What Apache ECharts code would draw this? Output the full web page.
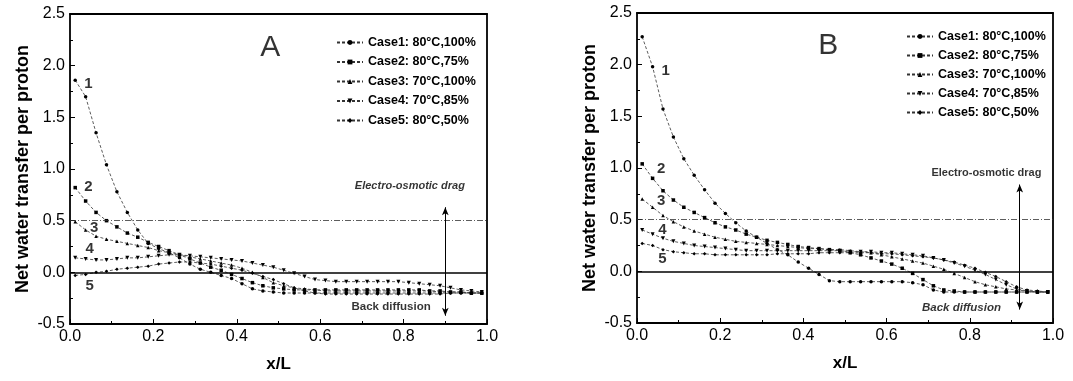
<!DOCTYPE html>
<html>
<head>
<meta charset="utf-8">
<script src="https://cdn.jsdelivr.net/npm/echarts@6/dist/echarts.min.js"></script>
<style>
  html, body { margin: 0; padding: 0; background: #fff; }
  #chart { width: 1073px; height: 381px; }
</style>
</head>
<body>
<div id="chart"></div>
<script>
// x/L sample positions (shared by all curves)
const xPos = [0.0125,0.0375,0.0625,0.0875,0.1125,0.1375,0.1625,0.1875,0.2125,0.2375,
              0.2625,0.2875,0.3125,0.3375,0.3625,0.3875,0.4125,0.4375,0.4625,0.4875,
              0.5125,0.5375,0.5625,0.5875,0.6125,0.6375,0.6625,0.6875,0.7125,0.7375,
              0.7625,0.7875,0.8125,0.8375,0.8625,0.8875,0.9125,0.9375,0.9625,0.9875];

const caseNames = ['Case1: 80°C,100%', 'Case2: 80°C,75%', 'Case3: 70°C,100%', 'Case4: 70°C,85%', 'Case5: 80°C,50%'];

// panel A
const aCase1 = [1.86,1.70,1.35,1.04,0.78,0.58,0.41,0.28,0.23,0.19,0.14,0.08,0.03,0.00,-0.03,-0.06,-0.11,-0.16,-0.18,-0.19,
                -0.20,-0.20,-0.20,-0.20,-0.20,-0.20,-0.20,-0.20,-0.20,-0.20,-0.20,-0.20,-0.20,-0.20,-0.20,-0.20,-0.20,-0.20,-0.20,-0.20];
const aCase2 = [0.82,0.69,0.58,0.50,0.44,0.38,0.34,0.29,0.25,0.21,0.17,0.13,0.09,0.05,0.02,-0.02,-0.06,-0.10,-0.13,-0.15,
                -0.16,-0.17,-0.17,-0.17,-0.17,-0.17,-0.17,-0.17,-0.17,-0.17,-0.17,-0.17,-0.17,-0.17,-0.18,-0.18,-0.19,-0.19,-0.20,-0.20];
const aCase3 = [0.49,0.41,0.35,0.32,0.30,0.28,0.26,0.24,0.21,0.19,0.17,0.15,0.13,0.11,0.09,0.07,0.04,0.00,-0.05,-0.10,
                -0.13,-0.15,-0.16,-0.17,-0.18,-0.18,-0.18,-0.18,-0.18,-0.18,-0.18,-0.18,-0.18,-0.18,-0.18,-0.19,-0.19,-0.19,-0.20,-0.20];
const aCase4 = [0.14,0.13,0.12,0.12,0.13,0.14,0.14,0.15,0.16,0.17,0.17,0.16,0.15,0.14,0.13,0.12,0.11,0.09,0.07,0.05,
                0.02,-0.01,-0.04,-0.07,-0.08,-0.09,-0.09,-0.09,-0.09,-0.09,-0.09,-0.09,-0.10,-0.11,-0.12,-0.13,-0.15,-0.17,-0.18,-0.19];
const aCase5 = [-0.03,-0.02,0.00,0.01,0.03,0.04,0.05,0.06,0.08,0.09,0.10,0.10,0.09,0.08,0.06,0.04,0.02,-0.01,-0.04,-0.07,
                -0.11,-0.15,-0.18,-0.20,-0.21,-0.21,-0.21,-0.21,-0.21,-0.21,-0.21,-0.21,-0.21,-0.21,-0.21,-0.21,-0.20,-0.20,-0.20,-0.20];

// panel B
const bCase1 = [2.27,1.98,1.57,1.30,1.09,0.93,0.79,0.66,0.56,0.47,0.39,0.33,0.27,0.21,0.16,0.09,0.03,-0.03,-0.09,-0.10,
                -0.10,-0.10,-0.10,-0.10,-0.10,-0.10,-0.11,-0.13,-0.18,-0.20,-0.20,-0.20,-0.20,-0.20,-0.20,-0.20,-0.20,-0.20,-0.20,-0.20];
const bCase2 = [1.04,0.90,0.78,0.69,0.62,0.57,0.52,0.47,0.43,0.40,0.36,0.33,0.30,0.28,0.26,0.24,0.23,0.22,0.21,0.20,
                0.18,0.16,0.13,0.10,0.07,0.03,-0.02,-0.08,-0.14,-0.18,-0.19,-0.20,-0.20,-0.20,-0.20,-0.20,-0.20,-0.20,-0.20,-0.20];
const bCase3 = [0.70,0.62,0.54,0.48,0.43,0.39,0.36,0.33,0.31,0.29,0.28,0.27,0.26,0.25,0.24,0.23,0.22,0.22,0.21,0.21,
                0.20,0.19,0.18,0.16,0.14,0.12,0.10,0.08,0.05,0.02,-0.02,-0.06,-0.10,-0.13,-0.15,-0.17,-0.18,-0.19,-0.20,-0.20];
const bCase4 = [0.40,0.36,0.32,0.29,0.27,0.25,0.24,0.23,0.22,0.21,0.20,0.20,0.20,0.20,0.20,0.20,0.20,0.20,0.20,0.20,
                0.19,0.19,0.19,0.18,0.18,0.17,0.16,0.15,0.13,0.11,0.08,0.05,0.01,-0.03,-0.08,-0.13,-0.17,-0.19,-0.20,-0.20];
const bCase5 = [0.27,0.25,0.21,0.19,0.18,0.17,0.17,0.16,0.16,0.16,0.16,0.16,0.16,0.17,0.17,0.17,0.17,0.18,0.18,0.18,
                0.18,0.18,0.18,0.17,0.17,0.16,0.15,0.14,0.13,0.11,0.09,0.06,0.03,-0.01,-0.05,-0.10,-0.15,-0.18,-0.19,-0.20];

const xTicks = [0, 0.2, 0.4, 0.6, 0.8, 1.0];
const yTicks = [-0.5, 0, 0.5, 1.0, 1.5, 2.0, 2.5];
const refLevels = [0, 0.5]; // zero line, drag level

const FONT = 'Liberation Sans';
const INK = '#000';
const symbols = ['circle', 'rect', 'triangle', 'path://M0,0 L10,0 L5,9 Z', 'diamond'];

// annotations (label, x, y)
const curveTagsA = [['1', 0.044, 1.82], ['2', 0.044, 0.83], ['3', 0.058, 0.43], ['4', 0.047, 0.23], ['5', 0.047, -0.13]];
const curveTagsB = [['1', 0.069, 1.94], ['2', 0.058, 0.99], ['3', 0.058, 0.68], ['4', 0.061, 0.40], ['5', 0.061, 0.12]];

const chart = echarts.init(document.getElementById('chart'));

function makeAxes(idx) {
    const line = { show: true, onZero: false, lineStyle: { color: INK, width: 1.8 } };
    const x = {
        gridIndex: idx, type: 'value', min: xTicks[0], max: xTicks[xTicks.length - 1], interval: 0.2,
        name: 'x/L', nameLocation: 'middle', nameGap: 32,
        nameTextStyle: { fontFamily: FONT, fontWeight: 'bold', fontSize: 17, color: INK },
        axisLine: line,
        axisTick: { inside: true, length: 5, lineStyle: { color: INK } },
        minorTick: { show: true, splitNumber: 2, length: 3, lineStyle: { color: INK } },
        splitLine: { show: false },
        axisLabel: { fontFamily: FONT, fontSize: 16, color: INK, margin: 5, formatter: v => v.toFixed(1) }
    };
    const y = {
        gridIndex: idx, type: 'value', min: yTicks[0], max: yTicks[yTicks.length - 1], interval: 0.5,
        name: 'Net water transfer per proton', nameLocation: 'middle', nameGap: 38,
        nameTextStyle: { fontFamily: FONT, fontWeight: 'bold', fontSize: 18, color: INK },
        axisLine: line,
        axisTick: { inside: true, length: 5, lineStyle: { color: INK } },
        minorTick: { show: true, splitNumber: 2, length: 3, lineStyle: { color: INK } },
        splitLine: { show: false },
        axisLabel: { fontFamily: FONT, fontSize: 16, color: INK, margin: 5, formatter: v => v.toFixed(1) }
    };
    // frame on top / right
    const xTop = {
        gridIndex: idx, type: 'value', position: 'top', min: 0, max: 1,
        axisLine: line, axisTick: { show: false }, axisLabel: { show: false }, splitLine: { show: false }
    };
    const yRight = {
        gridIndex: idx, type: 'value', position: 'right', min: -0.5, max: 2.5,
        axisLine: line, axisTick: { show: false }, axisLabel: { show: false }, splitLine: { show: false }
    };
    return { x: [x, xTop], y: [y, yRight] };
}

function caseSeries(idx, arrs) {
    return arrs.map((vals, i) => ({
        name: caseNames[i],
        type: 'line',
        xAxisIndex: idx * 2, yAxisIndex: idx * 2,
        data: xPos.map((x, k) => [x, vals[k]]),
        symbol: symbols[i],
        symbolSize: i === 3 ? 4 : 3.5,
        showSymbol: true,
        itemStyle: { color: INK },
        lineStyle: { color: '#333', width: 0.8, type: [3, 2] },
        z: 3
    }));
}

function notes(idx, tags, panel, arrow, drag, back) {
    const txt = (t, x, y, size, style) => ({
        value: [x, y],
        label: { show: true, formatter: t, position: 'inside', fontFamily: FONT, fontSize: size,
                 fontWeight: 'bold', fontStyle: style || 'normal', color: INK }
    });
    const data = tags.map(t => txt(t[0], t[1], t[2], 15));
    data.push({ value: [panel[1], panel[2]],
                label: { show: true, formatter: panel[0], position: 'inside', fontFamily: FONT, fontSize: 30, color: INK } });
    data.push(txt('Electro-osmotic drag', drag[0], drag[1], 11, drag[2]));
    data.push(txt('Back diffusion', back[0], back[1], 11.5, back[2]));
    return {
        type: 'scatter',
        xAxisIndex: idx * 2, yAxisIndex: idx * 2,
        symbolSize: 0,
        data: data,
        silent: true,
        z: 5,
        markLine: {
            silent: true,
            animation: false,
            symbol: 'none',
            label: { show: false },
            data: [
                { yAxis: refLevels[0], lineStyle: { color: INK, width: 1.6, type: 'solid' } },
                { yAxis: refLevels[1], lineStyle: { color: '#333', width: 0.8, type: [6, 2, 1, 2] } },
                [{ coord: [arrow[0], arrow[1]], symbol: 'arrow', symbolSize: [5, 8] },
                 { coord: [arrow[0], arrow[2]], symbol: 'arrow', symbolSize: [5, 8],
                   lineStyle: { color: INK, width: 1, type: 'solid' } }]
            ]
        }
    };
}

const axA = makeAxes(0);
const axB = makeAxes(1);
const legendText = { fontFamily: FONT, fontWeight: 'bold', fontSize: 12.5, color: INK };

chart.setOption({
    animation: false,
    grid: [
        { left: 70, top: 14, width: 417, height: 310 },
        { left: 637, top: 13, width: 416, height: 310 }
    ],
    xAxis: [...axA.x, ...axB.x.map(a => ({ ...a, gridIndex: 1 }))],
    yAxis: [...axA.y, ...axB.y.map(a => ({ ...a, gridIndex: 1 }))],
    legend: [
        { data: caseNames, orient: 'vertical', left: 331, top: 31, itemGap: 6.5, itemWidth: 26, itemHeight: 6, textStyle: legendText },
        { data: caseNames, orient: 'vertical', left: 901, top: 25, itemGap: 6, itemWidth: 26, itemHeight: 6, textStyle: legendText }
    ],
    series: [
        ...caseSeries(0, [aCase1, aCase2, aCase3, aCase4, aCase5]),
        ...caseSeries(1, [bCase1, bCase2, bCase3, bCase4, bCase5]),
        notes(0, curveTagsA, ['A', 0.48, 2.17], [0.9, -0.42, 0.63], [0.815, 0.84, 'italic'], [0.77, -0.33, 'normal']),
        notes(1, curveTagsB, ['B', 0.46, 2.18], [0.92, -0.37, 0.84], [0.84, 0.95, 'normal'], [0.78, -0.35, 'italic'])
    ]
});
</script>
</body>
</html>
